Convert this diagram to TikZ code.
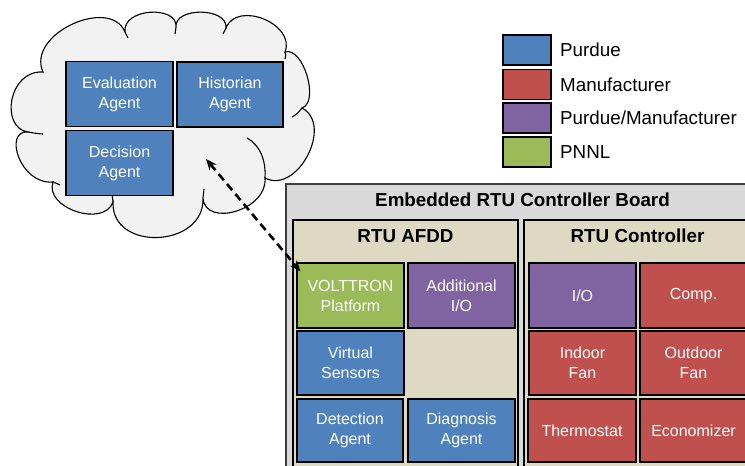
\documentclass[tikz,border=0pt]{standalone}
\usepackage{fontspec}
\setmainfont{Liberation Sans}
\usetikzlibrary{arrows.meta,calc}
\definecolor{pblue}{HTML}{4F81BD}
\definecolor{pred}{HTML}{C0504D}
\definecolor{ppurple}{HTML}{8064A2}
\definecolor{pgreen}{HTML}{9BBB59}
\definecolor{boardgray}{HTML}{D9D9D9}
\definecolor{beige}{HTML}{DDD9C3}
\definecolor{cloudfill}{HTML}{F2F2F2}
\tikzset{
  box/.style={draw=black, line width=1.2pt, text=white, align=center,
    font=\fontsize{16}{20}\selectfont, minimum width=107pt, minimum height=65pt, inner sep=0pt},
  bluebox/.style={box, fill=pblue},
  redbox/.style={box, fill=pred},
  purplebox/.style={box, fill=ppurple},
  greenbox/.style={box, fill=pgreen},
  legbox/.style={draw=black, line width=1.2pt, minimum width=48pt, minimum height=30pt, inner sep=0pt},
  legtext/.style={anchor=west, inner sep=0pt, font=\fontsize{18.8}{20}\selectfont},
  titletext/.style={font=\fontsize{18.8}{20}\selectfont\bfseries, inner sep=0pt},
  cloudline/.style={draw=black, line width=1.1pt},
  link/.style={line width=2.6pt, dash pattern=on 8pt off 5pt,
    {Stealth[length=11pt,width=9pt]}-{Stealth[length=11pt,width=9pt]}}
}
\begin{document}
\begin{tikzpicture}[x=1pt,y=-1pt]
\useasboundingbox (0,0) rectangle (745,466);
\clip (0,0) rectangle (745,466);
% cloud
\path[cloudline, fill=cloudfill]
  (28,132) .. controls (0,128) and (8,70) .. (43,72)
  .. controls (26,34) and (110,-4) .. (125,32)
  .. controls (122,8) and (178,5) .. (176,27)
  .. controls (174,7) and (228,7) .. (226,28)
  .. controls (237,0) and (296,24) .. (285,52)
  .. controls (303,46) and (320,102) .. (302,108)
  .. controls (334,125) and (297,195) .. (265,178)
  .. controls (268,210) and (205,228) .. (203,198)
  .. controls (205,248) and (111,252) .. (113,202)
  .. controls (104,228) and (44,208) .. (53,182)
  .. controls (20,185) and (3,130) .. (28,132) -- cycle;
% cloud inner curls
\draw[cloudline] (28,132) .. controls (34,133) and (39,134) .. (43,134);
\draw[cloudline] (125,32) .. controls (126,34) and (127,36) .. (128,38);
\draw[cloudline] (176,27) .. controls (176,30) and (175,32) .. (175,34);
\draw[cloudline] (226,28) .. controls (225,30) and (224,32) .. (223,34);
\draw[cloudline] (285,52) .. controls (286,54) and (286,56) .. (285,59);
\draw[cloudline] (302,108) .. controls (299,112) and (296,115) .. (292,117);
\draw[cloudline] (265,178) .. controls (266,160) and (260,145) .. (247,138);
\draw[cloudline] (203,198) .. controls (203,195) and (204,192) .. (204,189);
\draw[cloudline] (113,202) .. controls (113,199) and (112,196) .. (112,193);
\draw[cloudline] (53,182) .. controls (56,183) and (58,184) .. (60,185);
% cloud agents
\node[bluebox] (eval) at (119.5,94) {Evaluation\\Agent};
\node[bluebox, minimum width=106pt] (hist) at (230,94.5) {Historian\\Agent};
\node[bluebox] (dec) at (119.5,163) {Decision\\Agent};
% legend
\node[legbox, fill=pblue] (lg1) at (527,50) {};
\node[legbox, fill=pred] (lg2) at (527,84.5) {};
\node[legbox, fill=ppurple] (lg3) at (527,118) {};
\node[legbox, fill=pgreen] (lg4) at (527,152) {};
\node[legtext] (lt1) at (560,50) {Purdue};
\node[legtext] (lt2) at (560,84.5) {Manufacturer};
\node[legtext] (lt3) at (560,118) {Purdue/Manufacturer};
\node[legtext] (lt4) at (560,152) {PNNL};
% board
\draw[draw=black!75, line width=1.2pt, fill=boardgray] (286,184) rectangle (760,480);
\node[titletext] (boardtitle) at (522.5,200) {Embedded RTU Controller Board};
\draw[draw=black, line width=1.2pt, fill=beige] (293,220) rectangle (518,480);
\draw[draw=black, line width=1.2pt, fill=beige] (524,220) rectangle (755,480);
\node[titletext] (afddtitle) at (405.5,236) {RTU AFDD};
\node[titletext] (ctrltitle) at (637.5,236) {RTU Controller};
% AFDD boxes
\node[greenbox] (volt) at (350.5,295.5) {VOLTTRON\\Platform};
\node[purplebox] (addio) at (461.5,295.5) {Additional\\I/O};
\node[bluebox, minimum height=64pt] (virt) at (350.5,363) {Virtual\\Sensors};
\node[bluebox, minimum width=106pt, minimum height=63pt] (det) at (350,430.5) {Detection\\Agent};
\node[bluebox, minimum height=63pt] (diag) at (461.5,430.5) {Diagnosis\\Agent};
% controller boxes
\node[purplebox] (io) at (582.5,295.5) {I/O};
\node[redbox] (comp) at (693.5,295.5) {Comp.};
\node[redbox, minimum height=64pt] (indoor) at (582.5,363) {Indoor\\Fan};
\node[redbox, minimum height=64pt] (outdoor) at (693.5,363) {Outdoor\\Fan};
\node[redbox, minimum width=108pt, minimum height=63pt] (thermo) at (582,430.5) {Thermostat};
\node[redbox, minimum height=63pt] (econ) at (693.5,430.5) {Economizer};
% link
\coordinate (cloudpt) at (206,159);
\coordinate (voltpt) at ($(volt.north west)+(4,9)$);
\draw[link] (cloudpt) -- (voltpt);
\end{tikzpicture}
\end{document}
